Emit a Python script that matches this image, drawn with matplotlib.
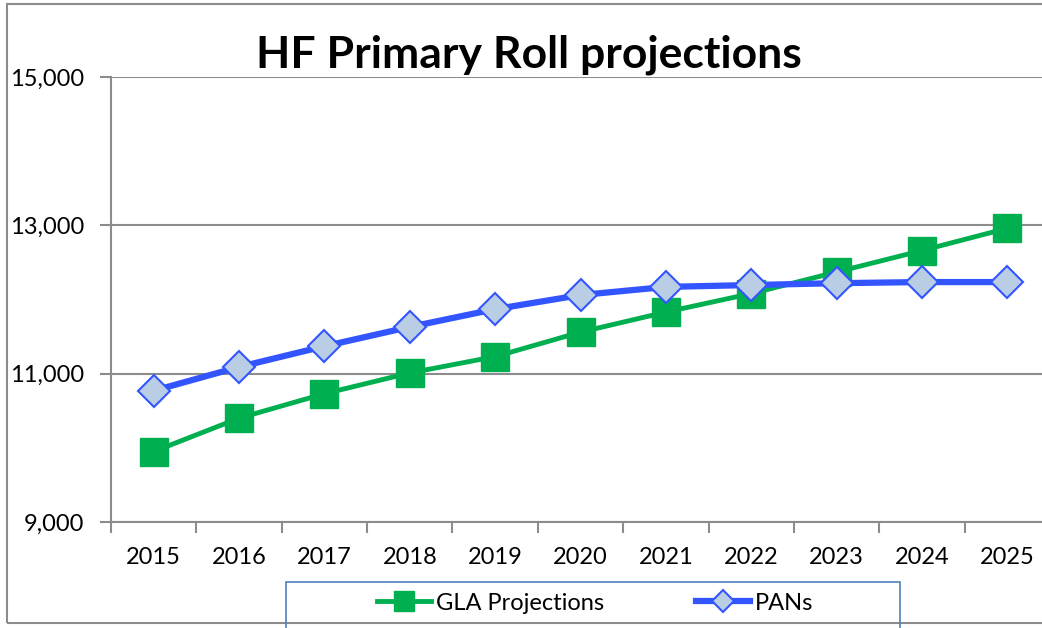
import matplotlib.pyplot as plt
from matplotlib.patches import Rectangle
from matplotlib.ticker import FuncFormatter, FixedLocator

years = ['2015', '2016', '2017', '2018', '2019', '2020',
         '2021', '2022', '2023', '2024', '2025']
gla = [9950, 10400, 10730, 11010, 11230, 11560,
       11830, 12080, 12370, 12660, 12960]
pans = [10770, 11090, 11370, 11630, 11870, 12060,
        12170, 12195, 12220, 12235, 12235]

plt.rcParams['font.family'] = ['Lato', 'DejaVu Sans']

fig = plt.figure(figsize=(10.42, 6.28), dpi=100)
ax = fig.add_axes([111/1042, 1-522/628, 939/1042, 445/628])

x = list(range(len(years)))
ax.plot(x, gla, color='#00B050', lw=3.5, marker='s', ms=20,
        mfc='#00B050', mec='#00B050', label='GLA Projections', zorder=3)
ax.plot(x, pans, color='#3355FF', lw=4.5, marker='D', ms=16,
        mfc='#B9CDE5', mec='#3355FF', mew=1.5, label='PANs', zorder=4)

ax.set_xlim(-0.5, len(years) - 0.5)
ax.set_ylim(9000, 15000)
ax.set_yticks([9000, 11000, 13000, 15000])
ax.yaxis.set_major_formatter(FuncFormatter(lambda v, p: f'{int(v):,}'))
ax.grid(axis='y', color='#8C8C8C', lw=1.5)
ax.set_axisbelow(True)

ax.set_xticks(x)
ax.set_xticklabels(years)
ax.xaxis.set_minor_locator(FixedLocator([i - 0.5 for i in range(len(years) + 1)]))
ax.tick_params(axis='x', which='major', length=0, pad=18, labelsize=17)
ax.tick_params(axis='x', which='minor', length=8, width=1.5, color='#8C8C8C')
ax.tick_params(axis='y', length=8, width=1.5, color='#8C8C8C', labelsize=17, pad=11)

for s in ['top', 'right']:
    ax.spines[s].set_visible(False)
for s in ['left', 'bottom']:
    ax.spines[s].set_color('#8C8C8C')
    ax.spines[s].set_linewidth(1.5)

fig.text(529/1042, 1-55/628, 'HF Primary Roll projections', ha='center',
         va='center', fontsize=32, fontweight='bold')

# outer chart border
fig.patches.append(Rectangle((7/1042, 1-623/628), 1.1, 619/628,
                             transform=fig.transFigure, fill=False,
                             edgecolor='#8C8C8C', lw=1.5))
# legend box
fig.patches.append(Rectangle((286/1042, -0.02), 614/1042, 1-582/628+0.02,
                             transform=fig.transFigure, fill=False,
                             edgecolor='#4F81BD', lw=1.2))
leg = ax.legend(loc='center', bbox_to_anchor=(595/1042, 1-603/628),
                bbox_transform=fig.transFigure, ncol=2, frameon=False,
                fontsize=17, markerscale=0.7, handlelength=2.3,
                columnspacing=3.9, handletextpad=0.2)

fig.savefig('out.png', dpi=100)
